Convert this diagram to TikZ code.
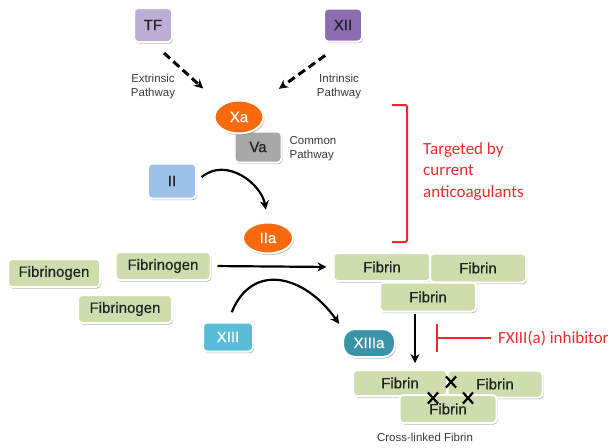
\documentclass[tikz,border=0pt]{standalone}
\usepackage{fontspec}
\setmainfont{Liberation Sans}
\newfontfamily\boxfont[FakeBold=0.5]{Liberation Sans}
\newfontfamily\calfont{Carlito}
\usetikzlibrary{arrows.meta,shapes.geometric,shapes.misc,shadows,calc,positioning}
\definecolor{tfC}{HTML}{BDAED6}
\definecolor{xiiC}{HTML}{8D6DB2}
\definecolor{orng}{HTML}{F96A0E}
\definecolor{vaC}{HTML}{A7A7A7}
\definecolor{iiC}{HTML}{9DC1E9}
\definecolor{fibC}{HTML}{CFDDAE}
\definecolor{xiiiC}{HTML}{58BDD6}
\definecolor{xiiiaC}{HTML}{3A93A8}
\definecolor{redC}{HTML}{EC2A2C}
\definecolor{ink}{HTML}{222222}
\definecolor{cap}{HTML}{3A3A3A}
\tikzset{
  % ---- factor boxes ----------------------------------------------
  fac/.style     = {rectangle, rounded corners=4pt, draw=white,
                    line width=2pt, inner sep=0pt, text=ink,
                    font=\boxfont\fontsize{15}{15}\selectfont,
                    drop shadow={shadow xshift=1pt, shadow yshift=-1.6pt,
                                 opacity=.5, fill=black!60}},
  oval/.style    = {fac, ellipse, fill=orng, text=white,
                    minimum width=49pt, minimum height=33pt},
  fibbox/.style  = {fac, fill=fibC, minimum width=95pt,
                    minimum height=28pt},
  % ---- captions --------------------------------------------------
  lbl/.style     = {font=\fontsize{11.5}{14}\selectfont, text=cap,
                    inner sep=0pt},
  redtxt/.style  = {font=\calfont\fontsize{17}{21.5}\selectfont,
                    text=redC, inner sep=0pt},
  % ---- connectors ------------------------------------------------
  arr/.style     = {draw=black, line width=2.2pt,
                    -{Stealth[length=9pt, width=9pt]}},
  dasharr/.style = {arr, line width=3pt, dash pattern=on 8pt off 4.5pt},
  xmark/.style   = {cross out, draw=black, line width=2.2pt,
                    minimum width=8pt, minimum height=9pt, inner sep=0pt},
}
\begin{document}
\begin{tikzpicture}[x=1pt, y=-1pt]
\useasboundingbox (0,0) rectangle (615,447);
% initiation
\node[fac, fill=tfC, minimum width=38pt, minimum height=34pt] (tf) at (153,25) {TF};
\node[fac, fill=xiiC, minimum width=38pt, minimum height=33pt] (xii) at (343,25) {XII};
\node[lbl, align=center] (extr) at (153,87) {Extrinsic\\Pathway};
\node[lbl, align=center] (intr) at (339,87) {Intrinsic\\Pathway};
\node[fac, fill=vaC, minimum width=47pt, minimum height=31pt] (va) at (258,147) {Va};
\node[oval] (xa) at (239,117) {Xa};
\node[lbl, align=left] (comm) at (313,149) {Common\\Pathway};
\draw[dasharr, shorten <=15pt, shorten >=24pt] (tf.south) -- (xa.north west);
\draw[dasharr, shorten <=22pt, shorten >=27pt] (xii.south) -- (xa.north east);
% thrombin
\node[fac, fill=iiC, minimum width=48pt, minimum height=35pt] (ii) at (172,181) {II};
\node[oval, minimum width=50pt, minimum height=31pt] (iia) at (268,238) {IIa};
\draw[arr, shorten <=6pt, shorten >=12pt] (ii.east) to[out=40, in=100, looseness=1.2] (iia.north);
% fibrinogen
\node[fibbox, minimum width=92pt] (fbg1) at (54,273) {Fibrinogen};
\node[fibbox] (fbg2) at (163,266) {Fibrinogen};
\node[fibbox, minimum width=94pt] (fbg3) at (125,309) {Fibrinogen};
\node[fibbox, minimum width=97pt] (fibL) at (382,267) {Fibrin};
\node[fibbox, minimum width=96pt, minimum height=29pt] (fibR) at (478,268) {Fibrin};
\node[fibbox, minimum width=96pt, minimum height=29pt] (fibB) at (428,297) {Fibrin};
\draw[arr, shorten <=6pt, shorten >=6pt] (fbg2.east) -- (fibL.west);
% factor XIII
\node[fac, fill=xiiiC, text=white, minimum width=50pt, minimum height=29pt] (xiii) at (228,337) {XIII};
\node[fac, fill=xiiiaC, text=white, rounded corners=12pt, minimum width=52pt, minimum height=28pt] (xiiia) at (369,343) {XIIIa};
\draw[arr, shorten <=10pt, shorten >=5pt] (xiii.north) to[out=68, in=125, looseness=1.45] (xiiia.north west);
% cross-linked fibrin
\node[fibbox, minimum width=94pt, minimum height=26pt] (clL) at (400,383) {Fibrin};
\node[fibbox, minimum width=95pt, minimum height=27pt] (clR) at (495,384) {Fibrin};
\node[fibbox, minimum width=97pt, minimum height=28pt] (clB) at (448,409) {Fibrin};
\node[xmark] (x1) at (451,382) {};
\node[xmark] (x2) at (433,398) {};
\node[xmark] (x3) at (468,398) {};
\node[lbl] (clcap) at (425,437) {Cross-linked Fibrin};
\draw[arr, shorten <=1pt, shorten >=6pt] ([xshift=-13pt]fibB.south) -- ([xshift=-13pt]fibB.south |- clL.north);
% inhibitor
\node[redtxt, anchor=west] (inh) at (498,338) {FXIII(a) inhibitor};
\coordinate (block) at (436,338);
\draw[redC, line width=1.5pt, -{Bar[width=28pt, line width=1.5pt]}, shorten <=7pt] (inh.west) -- (block);
% current anticoagulants
\draw[redC, line width=2pt, rounded corners=1.5pt] (392,105) -- (407,105) -- (407,242) -- (392,242);
\node[redtxt, anchor=north west, align=left] (curr) at (423,142) {Targeted by\\current\\anticoagulants};
\end{tikzpicture}
\end{document}
